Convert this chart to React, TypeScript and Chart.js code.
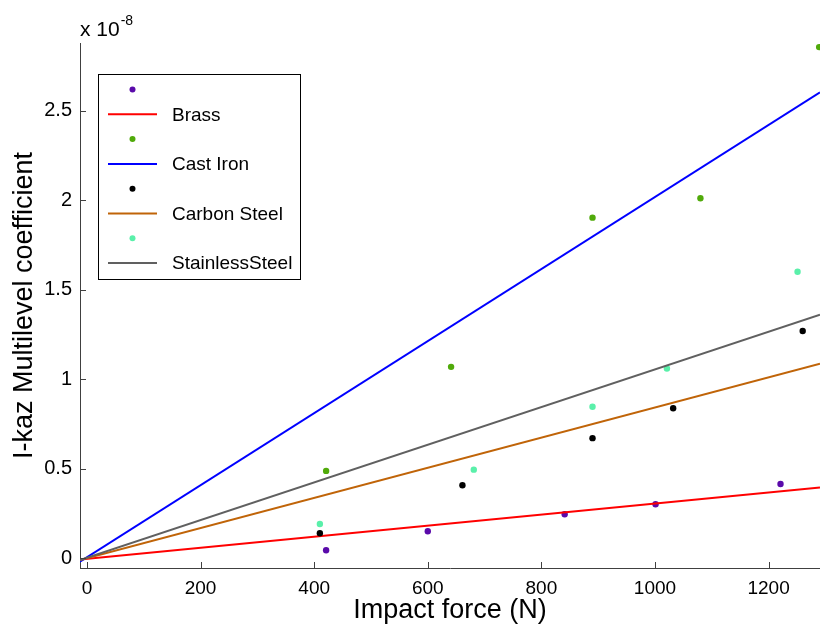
import React, { useEffect, useRef } from 'react';
import { Chart, registerables } from 'chart.js';
Chart.register(...registerables);

// Impact force (N) and I-kaz coefficient (in units of 1e-8)
const materials = ['Brass', 'Cast Iron', 'Carbon Steel', 'StainlessSteel'];
const brassForce = [421, 600, 841, 1001, 1221];
const brassIkaz = [0.045, 0.151, 0.246, 0.302, 0.415];
const castIronForce = [421, 641, 890, 1080, 1289];
const castIronIkaz = [0.488, 1.069, 1.902, 2.01, 2.854];
const carbonForce = [410, 661, 890, 1032, 1260];
const carbonIkaz = [0.14, 0.408, 0.671, 0.838, 1.269];
const stainlessForce = [410, 681, 890, 1021, 1251];
const stainlessIkaz = [0.192, 0.495, 0.846, 1.06, 1.6];

// Linear fit lines, evaluated at the ends of the x range
const fitForce = [-12.3, 1290.5];
const brassFit = [-0.006, 0.395];
const castIronFit = [-0.019, 2.601];
const carbonFit = [-0.01, 1.086];
const stainlessFit = [-0.01, 1.36];

const xTicks = [0, 200, 400, 600, 800, 1000, 1200];
const yTicks = [0, 0.5, 1, 1.5, 2, 2.5];
const exponent = '-8';

const pointColors = ['#5a0aaa', '#50aa0a', '#000000', '#5af0aa'];
const lineColors = ['#ff0000', '#0000ff', '#c06408', '#606060'];

const FONT = 'Liberation Sans, Arial, Helvetica, sans-serif';
const AXIS_COLOR = '#404040';

const pts = (xs: number[], ys: number[]) => xs.map((x, i) => ({ x, y: ys[i] }));

const seriesForce = [brassForce, castIronForce, carbonForce, stainlessForce];
const seriesIkaz = [brassIkaz, castIronIkaz, carbonIkaz, stainlessIkaz];
const seriesFit = [brassFit, castIronFit, carbonFit, stainlessFit];

const overlayPlugin = {
  id: 'overlay',
  afterDraw(chart: any) {
    const ctx = chart.ctx as CanvasRenderingContext2D;
    const xs = chart.scales.x;
    const ys = chart.scales.y;
    const area = chart.chartArea;
    ctx.save();
    // inward tick marks
    ctx.strokeStyle = AXIS_COLOR;
    ctx.lineWidth = 1;
    ctx.beginPath();
    xTicks.forEach((t) => {
      const px = Math.round(xs.getPixelForValue(t)) + 0.5;
      ctx.moveTo(px, area.bottom);
      ctx.lineTo(px, area.bottom - 6);
    });
    yTicks.forEach((t) => {
      const py = Math.round(ys.getPixelForValue(t)) + 0.5;
      ctx.moveTo(area.left, py);
      ctx.lineTo(area.left + 6, py);
    });
    ctx.stroke();

    // exponent label
    ctx.fillStyle = '#000';
    ctx.textBaseline = 'alphabetic';
    ctx.textAlign = 'left';
    ctx.font = `21px ${FONT}`;
    ctx.fillText('x 10', 80, 36);
    const w = ctx.measureText('x 10').width;
    ctx.font = `14px ${FONT}`;
    ctx.fillText(exponent, 80 + w + 1, 25);

    // legend
    const lx = 98, ly = 74, lw = 202, lh = 205;
    ctx.fillStyle = '#fff';
    ctx.fillRect(lx, ly, lw, lh);
    ctx.strokeStyle = '#000';
    ctx.lineWidth = 1;
    ctx.strokeRect(lx + 0.5, ly + 0.5, lw, lh);
    const ds = chart.data.datasets;
    let y = 89.5;
    ds.forEach((d: any) => {
      if (d.type === 'scatter') {
        ctx.fillStyle = d.backgroundColor;
        ctx.beginPath();
        ctx.arc(132.5, y, 3, 0, Math.PI * 2);
        ctx.fill();
      } else {
        ctx.strokeStyle = d.borderColor;
        ctx.lineWidth = 2;
        ctx.beginPath();
        ctx.moveTo(108, y);
        ctx.lineTo(157, y);
        ctx.stroke();
        ctx.fillStyle = '#000';
        ctx.font = `19px ${FONT}`;
        ctx.textBaseline = 'middle';
        ctx.fillText(d.label, 172, y + 1);
      }
      y += 24.8;
    });
    ctx.restore();
  },
};

export default function App() {
  const ref = useRef<HTMLCanvasElement>(null);
  useEffect(() => {
    document.body.style.margin = '0';
    const datasets: any[] = [];
    materials.forEach((m, i) => {
      datasets.push({
        type: 'scatter',
        label: '',
        data: pts(seriesForce[i], seriesIkaz[i]),
        backgroundColor: pointColors[i],
        borderColor: pointColors[i],
        pointRadius: 3.2,
        borderWidth: 0,
        showLine: false,
        clip: false,
        order: 10 - i * 2,
      });
      datasets.push({
        type: 'line',
        label: m,
        data: pts(fitForce, seriesFit[i]),
        borderColor: lineColors[i],
        backgroundColor: lineColors[i],
        borderWidth: 2,
        pointRadius: 0,
        fill: false,
        order: 9 - i * 2,
      });
    });
    const chart = new Chart(ref.current!, {
      type: 'scatter',
      data: { datasets },
      options: {
        animation: false,
        responsive: false,
        layout: { autoPadding: false, padding: { top: 43, right: 0, left: 0, bottom: 0 } },
        plugins: { legend: { display: false }, tooltip: { enabled: false } },
        scales: {
          x: {
            type: 'linear',
            min: -12.3,
            max: 1290.5,
            afterFit: (s: any) => { s.height = 59; s.paddingRight = 0; s.paddingLeft = 0; },
            afterBuildTicks: (s: any) => { s.ticks = xTicks.map((v) => ({ value: v })); },
            grid: { display: false, drawTicks: false },
            border: { display: true, color: AXIS_COLOR, width: 1 },
            ticks: { color: '#000', padding: 9, font: { family: FONT, size: 19 }, callback: (v: any) => String(v) },
            title: { display: true, text: 'Impact force (N)', color: '#000', font: { family: FONT, size: 27 }, padding: { top: 0, bottom: 0 } },
          },
          y: {
            type: 'linear',
            min: -0.054,
            max: 2.877,
            afterFit: (s: any) => { s.width = 80; s.paddingTop = 0; s.paddingBottom = 0; },
            afterBuildTicks: (s: any) => { s.ticks = yTicks.map((v) => ({ value: v })); },
            grid: { display: false, drawTicks: false },
            border: { display: true, color: AXIS_COLOR, width: 1 },
            ticks: { color: '#000', padding: 8, font: { family: FONT, size: 20 }, callback: (v: any) => String(v) },
            title: { display: true, text: 'I-kaz Multilevel coefficient', color: '#000', font: { family: FONT, size: 27 }, padding: { top: 8, bottom: 0 } },
          },
        },
      },
      plugins: [overlayPlugin],
    });
    return () => chart.destroy();
  }, []);
  return (
    <div style={{ width: 820, height: 627, background: '#fff' }}>
      <canvas ref={ref} width={820} height={627} />
    </div>
  );
}
